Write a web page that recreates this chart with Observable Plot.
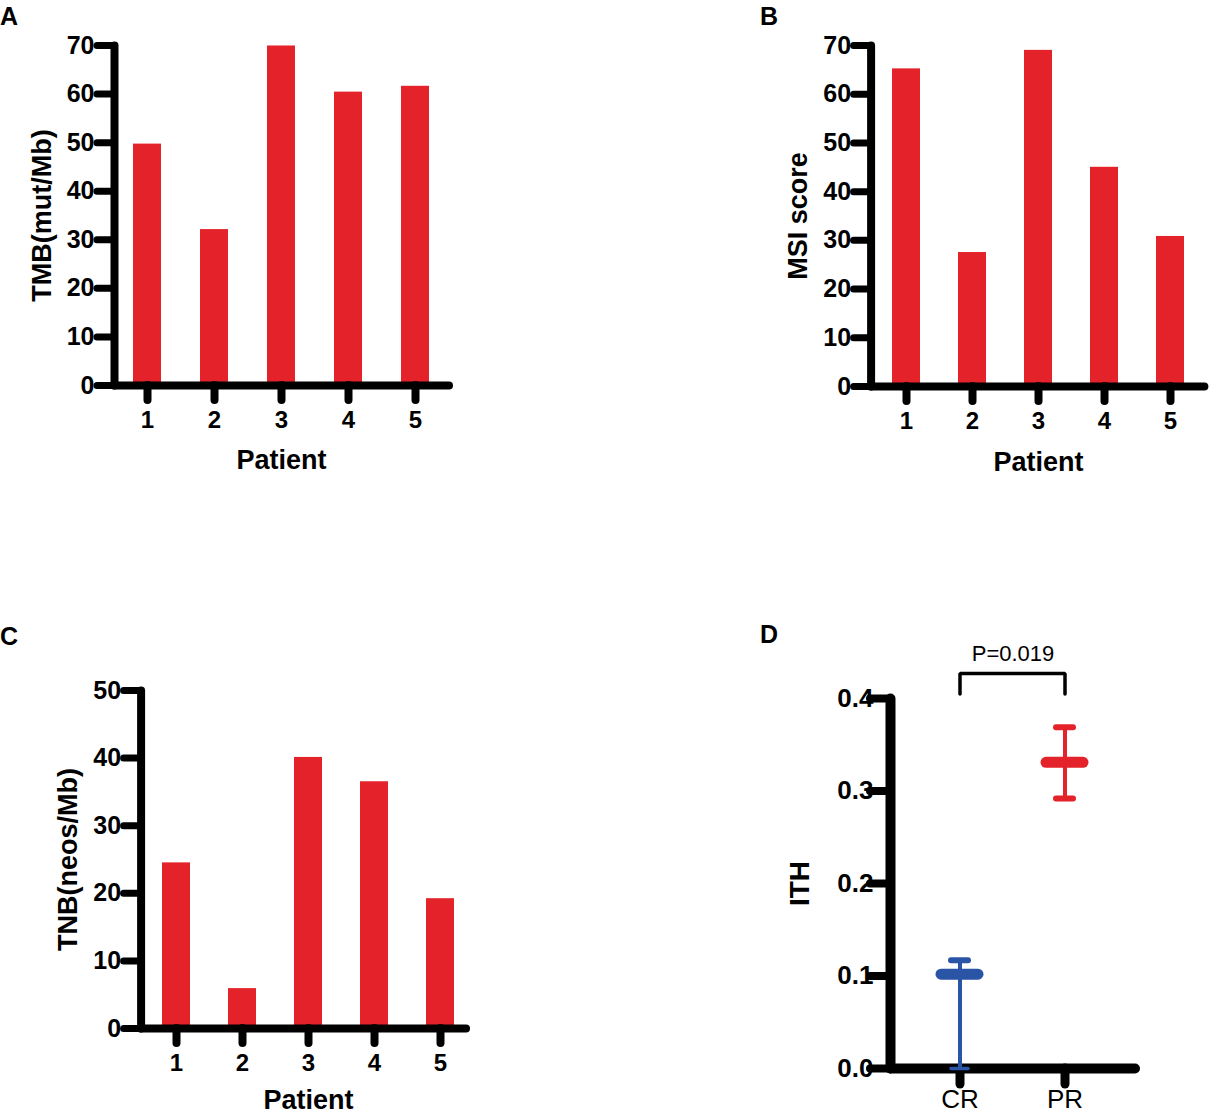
<!DOCTYPE html>
<html><head><meta charset="utf-8">
<script src="https://cdn.jsdelivr.net/npm/d3@7"></script>
<script src="https://cdn.jsdelivr.net/npm/@observablehq/plot@0.6"></script>
<style>
body{margin:0;background:#fff;color:#000;}
#root{position:relative;width:1210px;height:1114px;overflow:hidden;font-family:"Liberation Sans",Arial,sans-serif;}
.panel{position:absolute;}
.letter{position:absolute;font-weight:bold;font-size:25px;line-height:1;}
</style></head><body><div id="root"></div>
<script>
// ---- data ----
const patients = ["1", "2", "3", "4", "5"];
const tmbValues = [49.7, 32.1, 69.9, 60.4, 61.6];
const msiValues = [65.2, 27.5, 69.0, 45.0, 30.8];
const tnbValues = [24.5, 5.9, 40.1, 36.5, 19.2];
const tmbTicks = [0, 10, 20, 30, 40, 50, 60, 70];
const msiTicks = [0, 10, 20, 30, 40, 50, 60, 70];
const tnbTicks = [0, 10, 20, 30, 40, 50];
const ithGroups = ["CR", "PR"];
const ithMean = [0.102, 0.331];
const ithUpper = [0.117, 0.369];
const ithLower = [0.0, 0.292];
const ithTicks = [0, 0.1, 0.2, 0.3, 0.4];
const pValueLabel = "P=0.019";
const bracketLevels = [0.405, 0.427];

const RED = "#e32229";
const BLUE = "#2a55a7";
const FONT = "Liberation Sans, Arial, sans-serif";
const root = document.getElementById("root");

function place(el, left, top) {
  const d = document.createElement("div");
  d.className = "panel";
  d.style.left = left + "px";
  d.style.top = top + "px";
  d.appendChild(el);
  root.appendChild(d);
}
function letter(t, left, top) {
  const d = document.createElement("div");
  d.className = "letter";
  d.textContent = t;
  d.style.left = left + "px";
  d.style.top = top + "px";
  root.appendChild(d);
}

function barPanel(o) {
  const data = patients.map((p, i) => ({patient: p, value: o.values[i]}));
  return Plot.plot({
    width: o.width, height: o.height,
    marginTop: o.mt, marginBottom: o.mb, marginLeft: o.ml, marginRight: o.mr,
    style: {fontFamily: FONT, color: "#000", background: "transparent", overflow: "visible"},
    x: {type: "band", domain: patients, range: o.xr, paddingInner: 0.58, paddingOuter: 0.29, axis: null},
    y: {domain: [0, o.ticks[o.ticks.length - 1]], axis: null},
    marks: [
      Plot.barY(data, {x: "patient", y: "value", fill: RED}),
      Plot.frame({anchor: "left", stroke: "#000", strokeWidth: 8, strokeLinecap: "round"}),
      Plot.ruleY([0], {stroke: "#000", strokeWidth: 8, strokeLinecap: "round"}),
      Plot.axisY(o.ticks, {anchor: "left", tickSize: 17, tickPadding: 3, strokeWidth: 7, strokeLinecap: "round",
        fontSize: 25, fontWeight: "bold", label: null}),
      Plot.axisX(patients, {anchor: "bottom", tickSize: 15, tickPadding: 10, strokeWidth: 8, strokeLinecap: "round",
        fontSize: 24, fontWeight: "bold", label: null}),
      Plot.text([o.yLabel], {frameAnchor: "left", rotate: -90, dx: o.ldx, textAnchor: "middle", lineAnchor: "middle",
        fontSize: 27, fontWeight: "bold"}),
      Plot.text(["Patient"], {x: [o.labelAt], frameAnchor: "bottom", dy: o.ldy, textAnchor: "middle", lineAnchor: "middle",
        fontSize: 27, fontWeight: "bold"})
    ]
  });
}

place(barPanel({values: tmbValues, ticks: tmbTicks, yLabel: "TMB(mut/Mb)", width: 470, height: 480,
  mt: 45, mb: 95, ml: 114, mr: 21, xr: [114, 449], labelAt: patients[2], ldx: -72, ldy: 75}), 0, 0);
place(barPanel({values: msiValues, ticks: msiTicks, yLabel: "MSI score", width: 450, height: 480,
  mt: 45, mb: 94, ml: 110.6, mr: 5.6, xr: [110.6, 444.4], labelAt: patients[2], ldx: -73, ldy: 76}), 760, 0);
place(barPanel({values: tnbValues, ticks: tnbTicks, yLabel: "TNB(neos/Mb)", width: 480, height: 494,
  mt: 70, mb: 86, ml: 140.6, mr: 14, xr: [140.6, 474.4], labelAt: patients[2], ldx: -73, ldy: 72}), 0, 620);

// ---- panel D ----
const ithData = ithGroups.map((g, i) => ({group: g, mean: ithMean[i], upper: ithUpper[i], lower: ithLower[i]}));
const bracket = [
  {group: ithGroups[0], y: bracketLevels[0]},
  {group: ithGroups[0], y: bracketLevels[1]},
  {group: ithGroups[1], y: bracketLevels[1]},
  {group: ithGroups[1], y: bracketLevels[0]}
];
const panelD = Plot.plot({
  width: 450, height: 494,
  marginTop: 78, marginBottom: 46, marginLeft: 130, marginRight: 75,
  style: {fontFamily: FONT, color: "#000", background: "transparent", overflow: "visible"},
  x: {type: "band", domain: ithGroups, range: [146.5, 356.5], paddingInner: 0.648, paddingOuter: 0.324, axis: null},
  y: {domain: [0, 0.4], axis: null},
  color: {domain: ithGroups, range: [BLUE, RED]},
  marks: [
    Plot.frame({anchor: "left", stroke: "#000", strokeWidth: 10, strokeLinecap: "round"}),
    Plot.ruleY([0], {stroke: "#000", strokeWidth: 10, strokeLinecap: "round"}),
    Plot.axisY(ithTicks, {anchor: "left", tickSize: 20, tickPadding: -3, strokeWidth: 8, strokeLinecap: "round",
      fontSize: 26, fontWeight: "bold", tickFormat: d => d.toFixed(1), label: null}),
    Plot.axisX(ithGroups, {anchor: "bottom", tickSize: 16, tickPadding: 5, strokeWidth: 9, strokeLinecap: "round",
      fontSize: 26, fontWeight: "normal", label: null}),
    Plot.ruleX(ithData, {x: "group", y1: "lower", y2: "upper", stroke: "group", strokeWidth: 4}),
    Plot.tickY(ithData, {x: "group", y: "mean", stroke: "group", strokeWidth: 11, strokeLinecap: "round"}),
    Plot.tickY(ithData, {x: "group", y: "upper", stroke: "group", strokeWidth: 6, inset: 10, strokeLinecap: "round"}),
    Plot.tickY(ithData, {x: "group", y: "lower", stroke: "group", strokeWidth: d => d.lower > 0 ? 6 : 3.5, inset: 10, strokeLinecap: "round"}),
    Plot.line(bracket, {x: "group", y: "y", stroke: "#000", strokeWidth: 3.5, strokeLinecap: "round", strokeLinejoin: "miter"}),
    Plot.text([{label: pValueLabel, y: bracketLevels[1]}], {y: "y", text: "label", frameAnchor: "middle", dy: -20,
      lineAnchor: "middle", fontSize: 22, fontWeight: 500}),
    Plot.text(["ITH"], {frameAnchor: "left", rotate: -90, dx: -90, textAnchor: "middle", lineAnchor: "middle",
      fontSize: 28, fontWeight: "bold"})
  ]
});
place(panelD, 760, 620);

letter("A", 0, 4);
letter("B", 760, 4);
letter("C", 0, 624);
letter("D", 760, 622);
</script></body></html>
